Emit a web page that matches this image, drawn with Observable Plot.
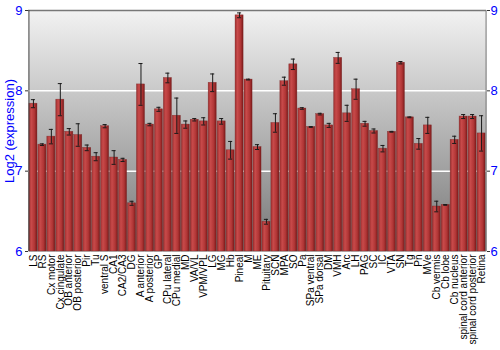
<!DOCTYPE html>
<html><head><meta charset="utf-8">
<script src="https://cdn.jsdelivr.net/npm/d3@7"></script>
<script src="https://cdn.jsdelivr.net/npm/@observablehq/plot@0.6"></script>
<style>body{margin:0;background:#fff}</style>
</head><body><div id="chart"></div>
<script>
const regions = ["LS","RS","Cx motor","Cx cingulate","OB anterior","OB posterior","Pir","Tu","ventral S","CA1","CA2/CA3","DG","A anterior","A posterior","GP","CPu lateral","CPu medial","MD","VA/VL","VPM/VPL","LG","MG","Hb","Pineal","M","ME","Pituitary","SCN","MPA","SO","Pa","SPa ventral","SPa dorsal","DM","VMH","Arc","LH","PAG","SC","IC","VTA","SN","Tg","Pn","MVe","Cb vermis","Cb lobe","Cb nucleus","spinal cord anterior","spinal cord posterior","Retina"];
const expression = [7.84,7.33,7.43,7.89,7.49,7.45,7.29,7.18,7.56,7.17,7.14,6.60,8.08,7.58,7.77,8.16,7.69,7.58,7.64,7.62,8.10,7.62,7.26,8.94,8.14,7.30,6.37,7.60,8.12,8.33,7.78,7.55,7.71,7.57,8.41,7.72,8.02,7.59,7.50,7.28,7.49,8.35,7.67,7.34,7.57,6.56,6.58,7.39,7.68,7.68,7.47];
const errors = [0.05,0.01,0.09,0.2,0.04,0.14,0.035,0.05,0.02,0.085,0.02,0.025,0.26,0.015,0.025,0.06,0.22,0.045,0.015,0.045,0.11,0.035,0.11,0.03,0.005,0.03,0.03,0.115,0.05,0.065,0.01,0.005,0.01,0.025,0.068,0.1,0.125,0.03,0.025,0.04,0.005,0.015,0.005,0.066,0.1,0.066,0.005,0.045,0.025,0.025,0.22];
const yTicks = [6,7,8,9];
const gridLines = [7,8];
const yLabel = "Log2 (expression)";

const data = regions.map((r,i)=>({region:r, value:expression[i], lo:expression[i]-errors[i], hi:expression[i]+errors[i]}));

const defs = () => {
  const d = d3.create("svg:defs");
  const bg = d.append("linearGradient").attr("id","bgGrad").attr("x1",0).attr("x2",0).attr("y1",0).attr("y2",1);
  bg.append("stop").attr("offset","0%").attr("stop-color","#f2f2f2");
  bg.append("stop").attr("offset","100%").attr("stop-color","#777777");
  const bar = d.append("linearGradient").attr("id","barGrad").attr("x1",0).attr("x2",1).attr("y1",0).attr("y2",0);
  bar.append("stop").attr("offset","0%").attr("stop-color","#a03030");
  bar.append("stop").attr("offset","30%").attr("stop-color","#c84a4a");
  bar.append("stop").attr("offset","70%").attr("stop-color","#b03535");
  bar.append("stop").attr("offset","100%").attr("stop-color","#7a1a1a");
  return d.node();
};

const chart = Plot.plot({
  width: 500, height: 350,
  marginLeft: 28, marginRight: 14, marginTop: 10, marginBottom: 99,
  style: {fontFamily: "Liberation Sans, Arial, sans-serif", background: "#fff"},
  x: {domain: regions, padding: 0.1, label: null},
  y: {domain: [6,9], label: null},
  marks: [
    defs,
    Plot.frame({fill: "url(#bgGrad)"}),
    Plot.ruleY(gridLines, {stroke: "#fff", strokeWidth: 1.5}),
    Plot.barY(data, {x: "region", y1: 6, y2: "value", fill: "url(#barGrad)", stroke: "#7a2525", strokeWidth: 0.5, strokeOpacity: 0.7}),
    Plot.ruleX(data, {x: "region", y1: "lo", y2: "hi", stroke: "#1a1a1a", strokeWidth: 1}),
    Plot.tickY(data, {x: "region", y: "lo", stroke: "#1a1a1a", insetLeft: 2, insetRight: 2}),
    Plot.tickY(data, {x: "region", y: "hi", stroke: "#1a1a1a", insetLeft: 2, insetRight: 2}),
    Plot.ruleY([9], {stroke: "#777", strokeWidth: 1.5}),
    Plot.ruleX([regions[0]], {stroke: "#444", dx: -4.5, y1: 6, y2: 9}),
    Plot.ruleX([regions[regions.length-1]], {stroke: "#777", dx: 4.5, y1: 6, y2: 9}),
    Plot.axisY(yTicks, {anchor: "left", tickSize: 3, tickFormat: "d", stroke: "#333", fill: "blue", fontSize: 13, tickPadding: 3,
      label: yLabel, labelAnchor: "center", labelArrow: "none", labelOffset: 24}),
    Plot.axisY(yTicks, {anchor: "right", tickSize: 3, tickFormat: "d", stroke: "#333", fill: "blue", fontSize: 13, label: null, tickPadding: 1}),
    Plot.axisX({tickRotate: -90, tickSize: 0, tickPadding: 3, fontSize: 10, fill: "#000", label: null})
  ]
});
document.getElementById("chart").append(chart);
</script>
</body></html>
